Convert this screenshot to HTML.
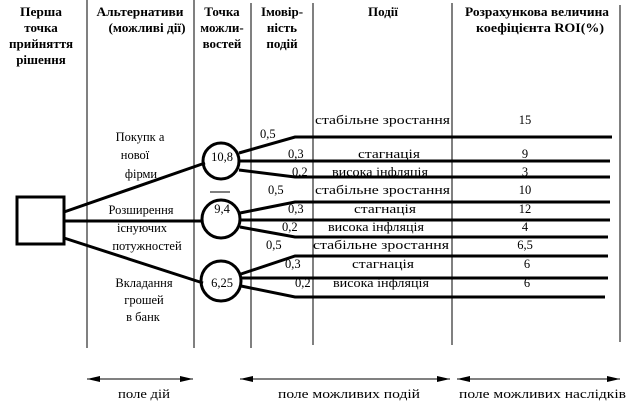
<!DOCTYPE html>
<html><head><meta charset="utf-8"><style>
body{margin:0;background:#fff}
svg text{font-family:"Liberation Serif",serif;font-size:12.5px;fill:#000}
svg text.h{font-weight:bold;font-size:13px}
</style></head><body>
<svg width="628" height="402" viewBox="0 0 628 402" xmlns="http://www.w3.org/2000/svg">
<g stroke="#000" stroke-width="1" fill="none">
<line x1="87" y1="0" x2="87" y2="348"/>
<line x1="194" y1="0" x2="194" y2="348"/>
<line x1="251" y1="3" x2="251" y2="348"/>
<line x1="313" y1="3" x2="313" y2="345"/>
<line x1="452" y1="3" x2="452" y2="345"/>
<line x1="620" y1="5" x2="620" y2="342"/>
<line x1="210" y1="192" x2="230" y2="192"/>
</g>
<g stroke="#000" stroke-width="3" fill="none">
<rect x="17" y="197" width="47" height="47"/>
<line x1="64" y1="212" x2="205" y2="163"/>
<line x1="64" y1="221" x2="203" y2="221"/>
<line x1="64" y1="238" x2="203" y2="283"/>
<circle cx="221" cy="161" r="18"/>
<circle cx="221" cy="219" r="19"/>
<circle cx="221" cy="281" r="20"/>
<polyline points="239,153 295,137 612,137"/>
<line x1="239" y1="161" x2="610" y2="161"/>
<polyline points="239,170 295,177 610,177"/>
<polyline points="240,213 295,202 610,202"/>
<line x1="240" y1="220" x2="610" y2="220"/>
<polyline points="240,227 295,237 608,237"/>
<polyline points="241,274 295,256 608,256"/>
<line x1="241" y1="278" x2="608" y2="278"/>
<polyline points="241,286 295,297 605,297"/>
</g>
<g stroke="#000" stroke-width="1">
<line x1="87" y1="379" x2="193" y2="379"/>
<line x1="240" y1="379" x2="450" y2="379"/>
<line x1="457" y1="379" x2="620" y2="379"/>
</g>
<g fill="#000">
<polygon points="87,379 100,376 100,382"/><polygon points="193,379 180,376 180,382"/>
<polygon points="240,379 253,376 253,382"/><polygon points="450,379 437,376 437,382"/>
<polygon points="457,379 470,376 470,382"/><polygon points="620,379 607,376 607,382"/>
</g>
<g text-anchor="middle">
<text class="h" x="41" y="16" textLength="42" lengthAdjust="spacingAndGlyphs">Перша</text><text class="h" x="41" y="32">точка</text><text class="h" x="41" y="48" textLength="64" lengthAdjust="spacingAndGlyphs">прийняття</text><text class="h" x="41" y="64">рішення</text>
<text class="h" x="140" y="16" textLength="87" lengthAdjust="spacingAndGlyphs">Альтернативи</text><text class="h" x="147" y="32" textLength="77" lengthAdjust="spacingAndGlyphs">(можливі дії)</text>
<text class="h" x="222" y="16">Точка</text><text class="h" x="222" y="32">можли-</text><text class="h" x="222" y="48">востей</text>
<text class="h" x="282" y="16">Імовір-</text><text class="h" x="282" y="32">ність</text><text class="h" x="282" y="48">подій</text>
<text class="h" x="383" y="16">Події</text>
<text class="h" x="537" y="16" textLength="144" lengthAdjust="spacingAndGlyphs">Розрахункова величина</text><text class="h" x="540" y="32" textLength="128" lengthAdjust="spacingAndGlyphs">коефіцієнта ROI(%)</text>
</g>
<g text-anchor="middle">
<text x="140" y="141">Покупк а</text><text x="135" y="159">нової</text><text x="141" y="178">фірми</text>
<text x="141" y="214">Розширення</text><text x="142" y="232">існуючих</text><text x="147" y="250">потужностей</text>
<text x="144" y="287">Вкладання</text><text x="144" y="304">грошей</text><text x="143" y="321">в банк</text>
<text x="222" y="161">10,8</text><text x="222" y="213">9,4</text><text x="222" y="287">6,25</text>
<text x="525" y="124">15</text><text x="525" y="158">9</text><text x="525" y="176">3</text>
<text x="525" y="194">10</text><text x="525" y="213">12</text><text x="525" y="231">4</text>
<text x="525" y="249">6,5</text><text x="527" y="268">6</text><text x="527" y="287">6</text>
</g>
<g>
<text x="315" y="124" textLength="135" lengthAdjust="spacingAndGlyphs">стабільне зростання</text>
<text x="358" y="158" textLength="62" lengthAdjust="spacingAndGlyphs">стагнація</text>
<text x="332" y="176" textLength="96" lengthAdjust="spacingAndGlyphs">висока інфляція</text>
<text x="315" y="194" textLength="135" lengthAdjust="spacingAndGlyphs">стабільне зростання</text>
<text x="354" y="213" textLength="62" lengthAdjust="spacingAndGlyphs">стагнація</text>
<text x="328" y="231" textLength="96" lengthAdjust="spacingAndGlyphs">висока інфляція</text>
<text x="313" y="249" textLength="136" lengthAdjust="spacingAndGlyphs">стабільне зростання</text>
<text x="352" y="268" textLength="62" lengthAdjust="spacingAndGlyphs">стагнація</text>
<text x="333" y="287" textLength="96" lengthAdjust="spacingAndGlyphs">висока інфляція</text>
<text x="118" y="398" textLength="52" lengthAdjust="spacingAndGlyphs">поле дій</text>
<text x="278" y="398" textLength="142" lengthAdjust="spacingAndGlyphs">поле можливих подій</text>
<text x="459" y="398" textLength="167" lengthAdjust="spacingAndGlyphs">поле можливих наслідків</text>
</g>
<g>
<text x="260" y="138">0,5</text><text x="288" y="158">0,3</text><text x="292" y="176">0,2</text>
<text x="268" y="194">0,5</text><text x="288" y="213">0,3</text><text x="282" y="231">0,2</text>
<text x="266" y="249">0,5</text><text x="285" y="268">0,3</text><text x="295" y="287">0,2</text>
</g>
</svg>
</body></html>
